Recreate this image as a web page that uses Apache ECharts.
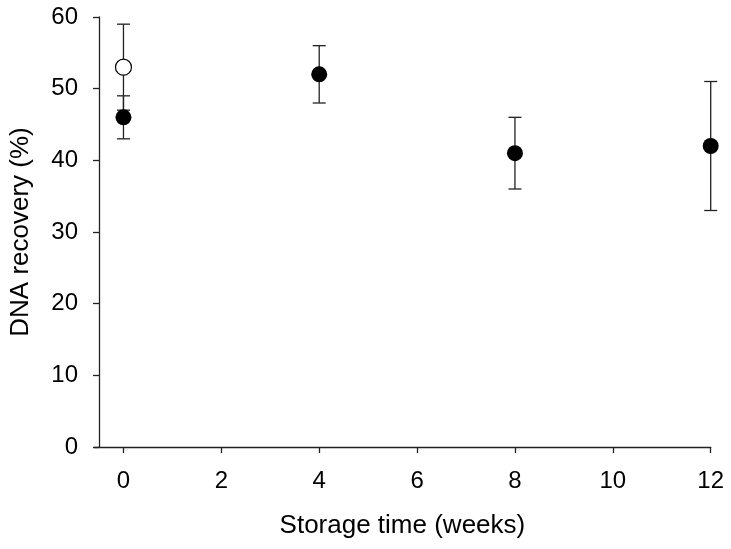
<!DOCTYPE html>
<html>
<head>
<meta charset="utf-8">
<script src="https://cdn.jsdelivr.net/npm/echarts@6/dist/echarts.min.js"></script>
<style>
  html, body { margin: 0; padding: 0; background: #fff; }
  #chart { width: 731px; height: 549px; }
</style>
</head>
<body>
<div id="chart"></div>
<script>
// storage data: filled points
const weeks = [0, 4, 8, 12];
const recovery = [46, 52, 41, 42];
const recoveryErr = [3, 4, 5, 9];

// open point (week 0)
const openWeeks = [0];
const openRecovery = [53];
const openErr = [6];

const xTicks = [0, 2, 4, 6, 8, 10, 12];

const FONT = '"Liberation Sans", Arial, sans-serif';
const AXIS_COLOR = '#222';

const chart = echarts.init(document.getElementById('chart'));

// build error bar rows [x, low, high]
const errRows = [];
openWeeks.forEach((w, i) => errRows.push([w, openRecovery[i] - openErr[i], openRecovery[i] + openErr[i]]));
weeks.forEach((w, i) => errRows.push([w, recovery[i] - recoveryErr[i], recovery[i] + recoveryErr[i]]));

function renderErr(params, api) {
  const x = api.value(0);
  const lo = api.coord([x, api.value(1)]);
  const hi = api.coord([x, api.value(2)]);
  const hw = 6.5;
  const style = { stroke: AXIS_COLOR, lineWidth: 1.3 };
  return {
    type: 'group',
    children: [
      { type: 'line', shape: { x1: lo[0], y1: lo[1], x2: hi[0], y2: hi[1] }, style },
      { type: 'line', shape: { x1: lo[0] - hw, y1: lo[1], x2: lo[0] + hw, y2: lo[1] }, style },
      { type: 'line', shape: { x1: hi[0] - hw, y1: hi[1], x2: hi[0] + hw, y2: hi[1] }, style }
    ]
  };
}

const option = {
  animation: false,
  backgroundColor: '#fff',
  grid: { left: 92.6, right: 20.3, top: 17, bottom: 102 },
  xAxis: {
    type: 'value',
    min: -0.6,
    max: 12,
    name: 'Storage time (weeks)',
    nameLocation: 'middle',
    nameGap: 66,
    nameMoveOverlap: false,
    nameTextStyle: { fontFamily: FONT, fontSize: 26, color: '#000' },
    axisLine: { show: true, onZero: false, lineStyle: { color: AXIS_COLOR, width: 1.3 } },
    axisTick: { show: true, inside: false, length: 6, customValues: xTicks, lineStyle: { color: AXIS_COLOR, width: 1.3 } },
    axisLabel: { customValues: xTicks, margin: 22, fontFamily: FONT, fontSize: 24, color: '#000' },
    splitLine: { show: false }
  },
  yAxis: {
    type: 'value',
    min: 0,
    max: 60,
    interval: 10,
    offset: -4.9,
    name: 'DNA recovery (%)',
    nameLocation: 'middle',
    nameGap: 65,
    nameMoveOverlap: false,
    nameTextStyle: { fontFamily: FONT, fontSize: 26, color: '#000' },
    axisLine: { show: true, onZero: false, lineStyle: { color: AXIS_COLOR, width: 1.3 } },
    axisTick: { show: true, inside: false, length: 6, lineStyle: { color: AXIS_COLOR, width: 1.3 } },
    axisLabel: { margin: 21, fontFamily: FONT, fontSize: 24, color: '#000' },
    splitLine: { show: false }
  },
  series: [
    {
      type: 'custom',
      renderItem: renderErr,
      data: errRows,
      z: 1
    },
    {
      type: 'scatter',
      data: openWeeks.map((w, i) => [w, openRecovery[i]]),
      symbol: 'circle',
      symbolSize: 16,
      itemStyle: { color: '#fff', borderColor: '#000', borderWidth: 1.2, opacity: 1 },
      z: 2
    },
    {
      type: 'scatter',
      data: weeks.map((w, i) => [w, recovery[i]]),
      symbol: 'circle',
      symbolSize: 16,
      itemStyle: { color: '#000', opacity: 1 },
      z: 3
    }
  ]
};

chart.setOption(option);
</script>
</body>
</html>
